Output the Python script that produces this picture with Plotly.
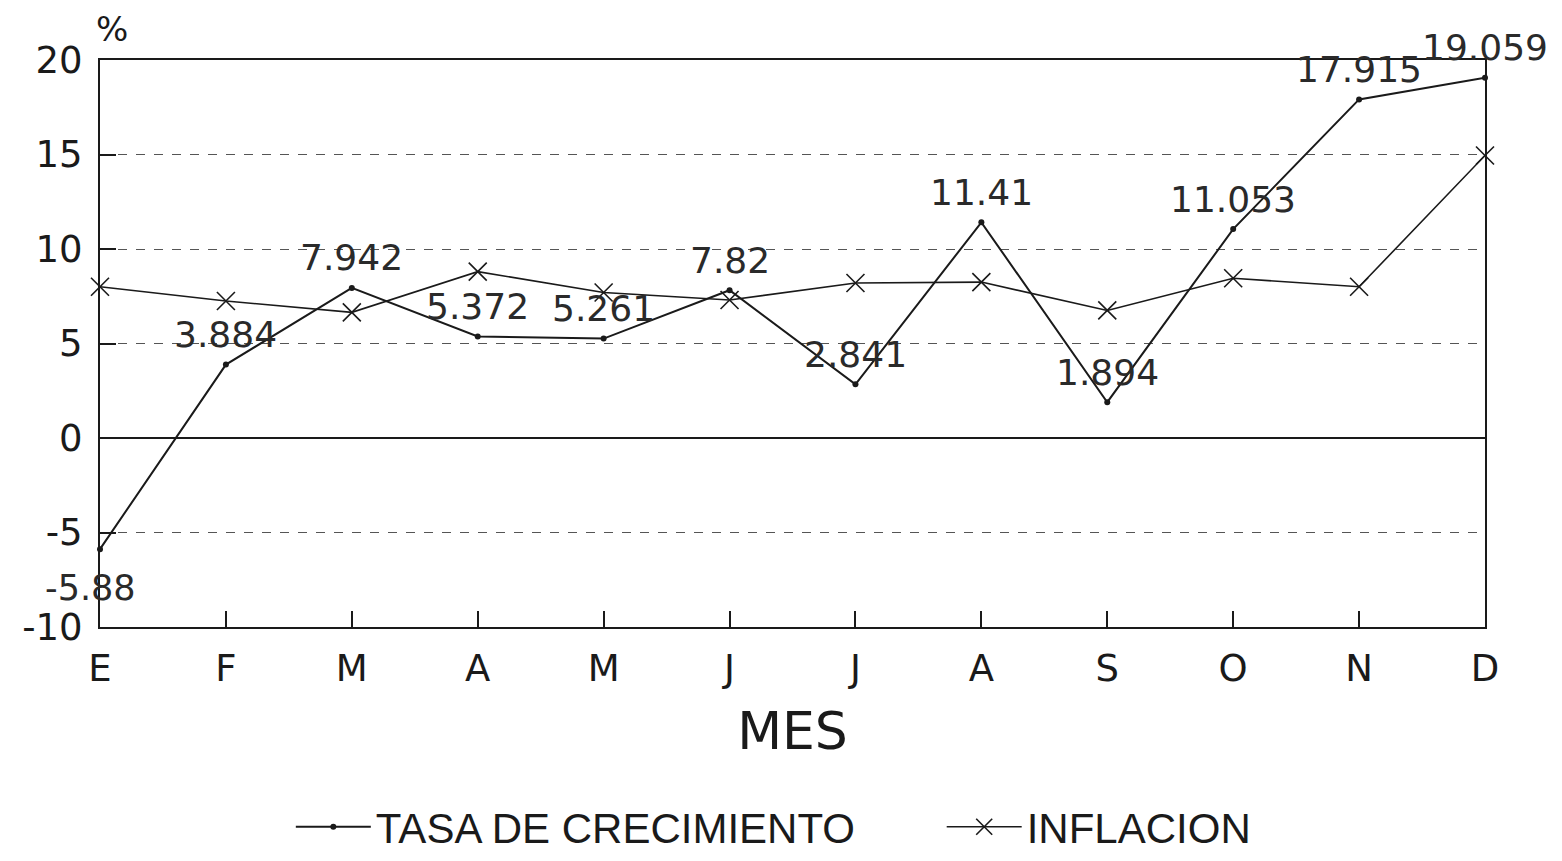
import plotly.graph_objects as go

months = ["E", "F", "M", "A", "M", "J", "J", "A", "S", "O", "N", "D"]
tasa = [-5.88, 3.884, 7.942, 5.372, 5.261, 7.82, 2.841, 11.41, 1.894, 11.053, 17.915, 19.059]
inflacion = [8.0, 7.25, 6.65, 8.8, 7.7, 7.3, 8.2, 8.25, 6.75, 8.45, 8.0, 14.95]
tasa_labels = ["-5.88", "3.884", "7.942", "5.372", "5.261", "7.82", "2.841", "11.41", "1.894", "11.053", "17.915", "19.059"]
y_ticks = [-10, -5, 0, 5, 10, 15, 20]
y_ticktext = ["-10", "-5", "0", "5", "10", "15", "20"]

x = list(range(len(months)))
FONT = "DejaVu Sans"
INK = "#1a1a1a"

fig = go.Figure()
fig.add_trace(go.Scatter(
    x=x, y=tasa, mode="lines+markers", name="TASA DE CRECIMIENTO" + "\u00a0" * 7,
    line=dict(color=INK, width=2), marker=dict(symbol="circle", size=6, color=INK),
    cliponaxis=False,
))
fig.add_trace(go.Scatter(
    x=x, y=inflacion, mode="lines+markers", name="INFLACION",
    line=dict(color=INK, width=1.6),
    marker=dict(symbol="x-thin", size=18, color=INK, line=dict(width=1.6, color=INK)),
    cliponaxis=False,
))

# value labels for the growth-rate series (first one sits below its point)
for i, (xi, yi, lab) in enumerate(zip(x, tasa, tasa_labels)):
    below = i == 0
    fig.add_annotation(x=xi, y=yi, text=lab, showarrow=False,
                       xanchor="center", yanchor="middle",
                       xshift=-10 if below else 0, yshift=-39 if below else 30,
                       font=dict(family=FONT, size=35 if below else 36, color="#2a2a2a"))

fig.add_annotation(x=0, y=1, xref="paper", yref="paper", text="%", showarrow=False,
                   xanchor="center", yanchor="bottom", xshift=12, yshift=9,
                   font=dict(family=FONT, size=34, color=INK))

fig.update_layout(
    width=1554, height=853,
    margin=dict(l=92, r=77, t=52, b=234),
    paper_bgcolor="white", plot_bgcolor="white",
    font=dict(family=FONT, color=INK),
    showlegend=True,
    legend=dict(orientation="h", xref="container", yref="container",
                x=0.182, xanchor="left", y=0.0, yanchor="bottom",
                font=dict(family="Liberation Sans", size=42, color=INK),
                itemwidth=75, tracegroupgap=0,
                bgcolor="rgba(0,0,0,0)"),
    xaxis=dict(
        range=[0, 11], tickmode="array", tickvals=x, ticktext=months,
        showgrid=False, zeroline=False, automargin=False,
        showline=True, linecolor=INK, linewidth=2, mirror=True,
        ticks="inside", ticklen=16, tickcolor=INK, tickwidth=1.5,
        tickfont=dict(family=FONT, size=37, color=INK),
        ticklabelstandoff=8,
        title=dict(text="MES", font=dict(family=FONT, size=52, color=INK), standoff=23),
    ),
    yaxis=dict(
        range=[-10, 20], tickmode="array", tickvals=y_ticks, ticktext=y_ticktext,
        showgrid=True, gridcolor="#555", griddash="dash", gridwidth=1,
        zeroline=True, zerolinecolor=INK, zerolinewidth=2, automargin=False,
        showline=True, linecolor=INK, linewidth=2, mirror=True,
        ticks="inside", ticklen=16, tickcolor=INK, tickwidth=1.5,
        tickfont=dict(family=FONT, size=37, color=INK),
        ticklabelstandoff=8,
    ),
)

fig.write_html("out.html")
